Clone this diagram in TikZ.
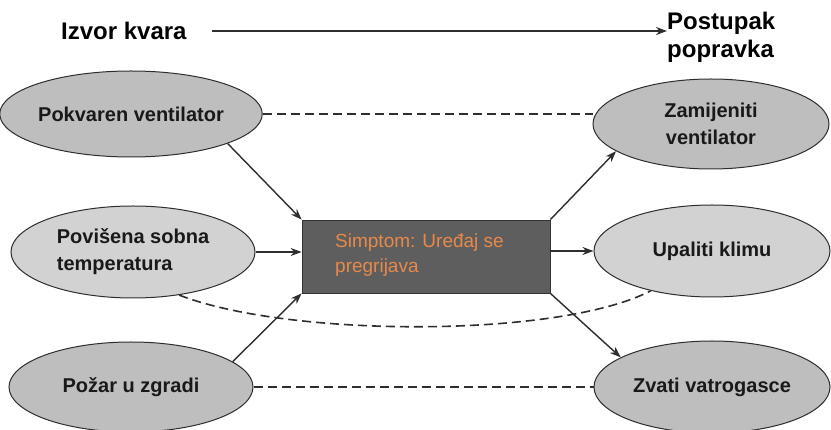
\documentclass[tikz,border=0pt]{standalone}
\usepackage{fontspec}
\setmainfont{Liberation Sans}
\usetikzlibrary{shapes.geometric,arrows.meta}
\definecolor{ellA}{HTML}{BEBEBE}
\definecolor{ellB}{HTML}{D2D2D2}
\definecolor{boxfill}{HTML}{5E5E5E}
\definecolor{boxtext}{HTML}{E8894A}
\definecolor{lin}{HTML}{2E2E2E}
\begin{document}
\begin{tikzpicture}[x=1pt,y=-1pt,
  ell/.style={ellipse,draw=lin,line width=1pt,inner sep=0pt,minimum width=244pt,minimum height=86pt,
    font=\fontsize{20}{27}\selectfont\bfseries,align=center,text=black!90},
  head/.style={font=\fontsize{24}{28}\selectfont\bfseries,align=left,inner sep=0pt},
  arr/.style={draw=lin,line width=1.4pt,-{Stealth[length=11pt,width=8pt]}},
  dsh/.style={draw=lin,line width=1.6pt,dash pattern=on 9pt off 5pt}]
\useasboundingbox (0,0) rectangle (831,430);
\fill[white] (0,0) rectangle (831,430);
% headings
\node[head,anchor=west] (izvor) at (61,31) {Izvor kvara};
\node[head,anchor=west] (post) at (667,37) {Postupak\\popravka};
\draw[arr] ([xshift=25pt]izvor.east) -- (630,31 -| post.west) coordinate (tip);
% left ellipses
\node[ell,fill=ellA] (pok) at (131,114) {Pokvaren ventilator};
\node[ell,fill=ellB,align=left,minimum height=92pt] (pov) at (133,252) {Povišena sobna\\temperatura\hspace*{14pt}};
\node[ell,fill=ellA,minimum height=90pt] (poz) at (131,387) {Požar u zgradi};
% right ellipses
\node[ell,fill=ellA,minimum width=236pt,minimum height=90pt] (zam) at (711,124) {Zamijeniti\\ventilator};
\node[ell,fill=ellB,minimum width=236pt,minimum height=92pt] (upa) at (712,251) {Upaliti klimu};
\node[ell,fill=ellA,minimum width=236pt,minimum height=92pt] (zva) at (712,387) {Zvati vatrogasce};
% central box
\node[draw=black!80,line width=0.8pt,fill=boxfill,minimum width=248pt,minimum height=73pt,inner sep=0pt] (box) at (426,256.5) {};
\node[anchor=west,align=left,text=boxtext,font=\fontsize{19}{25}\selectfont,inner sep=0pt] (sym) at (335,255) {Simptom: Uređaj se\\pregrijava};
% arrows into box
\draw[arr] (pok.-17) -- (box.north west);
\draw[arr] (pov.east) -- (box.west |- pov.east);
\draw[arr] (poz.14) -- (box.south west);
% arrows out of box
\draw[arr] (box.north east) -- (zam.196);
\draw[arr] (box.east |- upa.west) -- (upa.west);
\draw[arr] (box.south east) -- (zva.162);
% dashed links
\draw[dsh] (pok.east) -- (zam.west |- pok.east);
\draw[dsh] (poz.east) -- (zva.west);
\draw[dsh] (pov.-43) .. controls (290,338) and (560,338) .. (upa.-147);
\end{tikzpicture}
\end{document}
